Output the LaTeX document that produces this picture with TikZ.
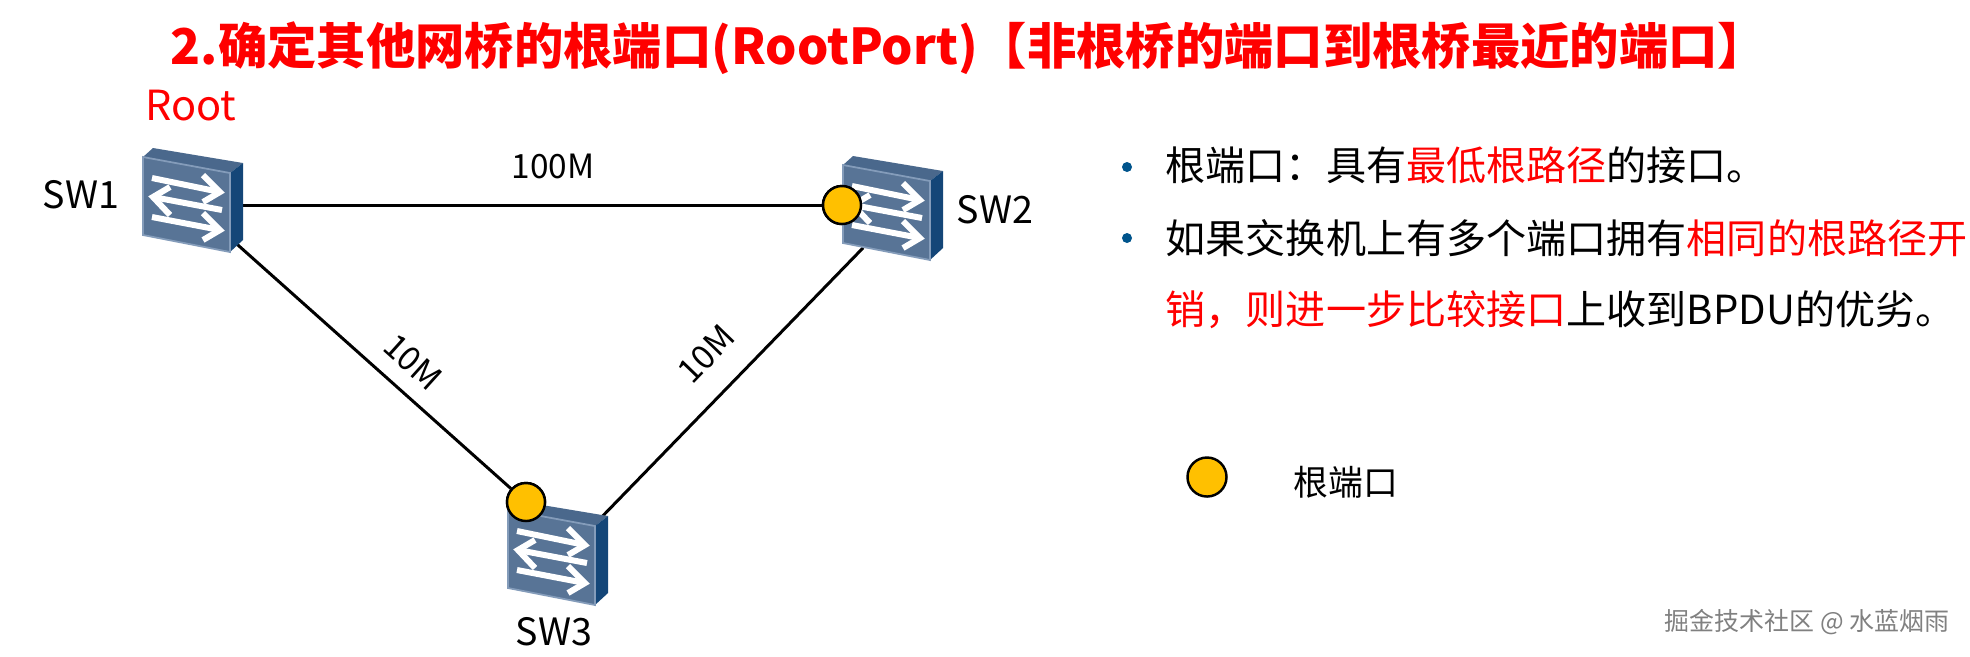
\documentclass[tikz,border=0pt]{standalone}
\usepackage{fontspec}
\setmainfont{Noto Sans CJK SC}
\usepackage{tikz}
\usetikzlibrary{positioning}
\definecolor{swfront}{RGB}{88,116,150}
\definecolor{swedge}{RGB}{132,156,186}
\definecolor{swtop}{RGB}{74,104,140}
\definecolor{swside}{RGB}{20,70,120}
\definecolor{portgold}{RGB}{255,192,0}
\definecolor{bulletblue}{RGB}{0,84,140}
\begin{document}
\begin{tikzpicture}[
  x=0.01cm, y=-0.01cm,
  swbox/.style={rectangle, minimum width=0.6cm, minimum height=0.6cm, inner sep=0pt},
  port/.style={circle, draw=black, fill=portgold, line width=0.7pt, minimum size=0.38cm, inner sep=0pt},
  link/.style={draw=black, line width=0.85pt},
  swlab/.style={font=\fontsize{10.7pt}{12pt}\selectfont, inner sep=0pt},
  speed/.style={font=\fontsize{9.5pt}{11pt}\selectfont, inner sep=0pt},
  txt/.style={font=\fontsize{11.4pt}{13pt}\selectfont, anchor=west, inner sep=0pt},
  dotmark/.style={circle, fill=bulletblue, minimum size=0.1cm, inner sep=0pt},
  swdev/.pic={
    \fill[swtop] (0,0) -- (10,-9) -- (100,6) -- (87,16) -- cycle;
    \fill[swside] (87,16) -- (100,6) -- (100,83) -- (87,95) -- cycle;
    \draw[swedge, fill=swfront, line width=0.5pt] (0,0) -- (87,16) -- (87,95) -- (0,78) -- cycle;
    \foreach \ya/\yb/\yc/\yd in {21/35/18/45, 60/73/56/83} {
      \draw[white, line width=0.06cm] (9,\ya) -- (77,\yb);
      \draw[white, line width=0.06cm] (60,\yc) -- (77,\yb) -- (60,\yd);
    }
    \draw[white, line width=0.06cm] (79,53) -- (10,40);
    \draw[white, line width=0.06cm] (27,30) -- (10,40) -- (27,58);
  }
]
\useasboundingbox (0,0) rectangle (1970,656);

% Title
\node[font=\fontsize{14.03pt}{16pt}\selectfont\bfseries, text=red, inner sep=0pt] (title) at (969,48) {2.确定其他网桥的根端口(RootPort)【非根桥的端口到根桥最近的端口】};

% Switches
\node[swbox] (sw1) at (193,205) {};
\node[swbox] (sw2) at (893,217) {};
\node[swbox] (sw3) at (558,562) {};
\node[port] (port2) at (842,205) {};
\node[port] (port3) at (526,502) {};

% Links
\draw[link] (sw1) -- (port2);
\draw[link] (sw1) -- (port3);
\draw[link] (sw2) -- (sw3);

\pic at (143,157) {swdev};
\pic at (843,165) {swdev};
\pic at (508,510) {swdev};
\node[port] at (port2) {};
\node[port] at (port3) {};

% Labels
\node[swlab] (lab1) at (81,195) {SW1};
\node[swlab] (lab2) at (995,210) {SW2};
\node[swlab] (lab3) at (554,632) {SW3};
\node[swlab, text=red, font=\fontsize{11.8pt}{14pt}\selectfont] (rootlab) at (191,106) {Root};
\node[speed] (s100) at (553,166) {100M};
\node[speed, rotate=-42] (s10a) at (413,362) {10M};
\node[speed, rotate=46] (s10b) at (706,354) {10M};

% Text
\node[dotmark] (dot1) at (1127,167) {};
\node[dotmark] (dot2) at (1127,238) {};
\node[txt] (line1) at (1165,165) {根端口：具有\textcolor{red}{最低根路径}的接口。};
\node[txt] (line2) at (1165,238) {如果交换机上有多个端口拥有\textcolor{red}{相同的根路径开}};
\node[txt] (line3) at (1165,310) {\textcolor{red}{销，则进一步比较接口}上收到BPDU的优劣。};

% Legend
\node[port, minimum size=0.39cm] (legend) at (1207,477) {};
\node[txt, font=\fontsize{9.9pt}{12pt}\selectfont] (legendlab) at (1293,482) {根端口};

\node[font=\fontsize{7.1pt}{9pt}\selectfont, text=black!50, anchor=east, inner sep=0pt] (mark) at (1950,622) {掘金技术社区 @ 水蓝烟雨};
\end{tikzpicture}
\end{document}
